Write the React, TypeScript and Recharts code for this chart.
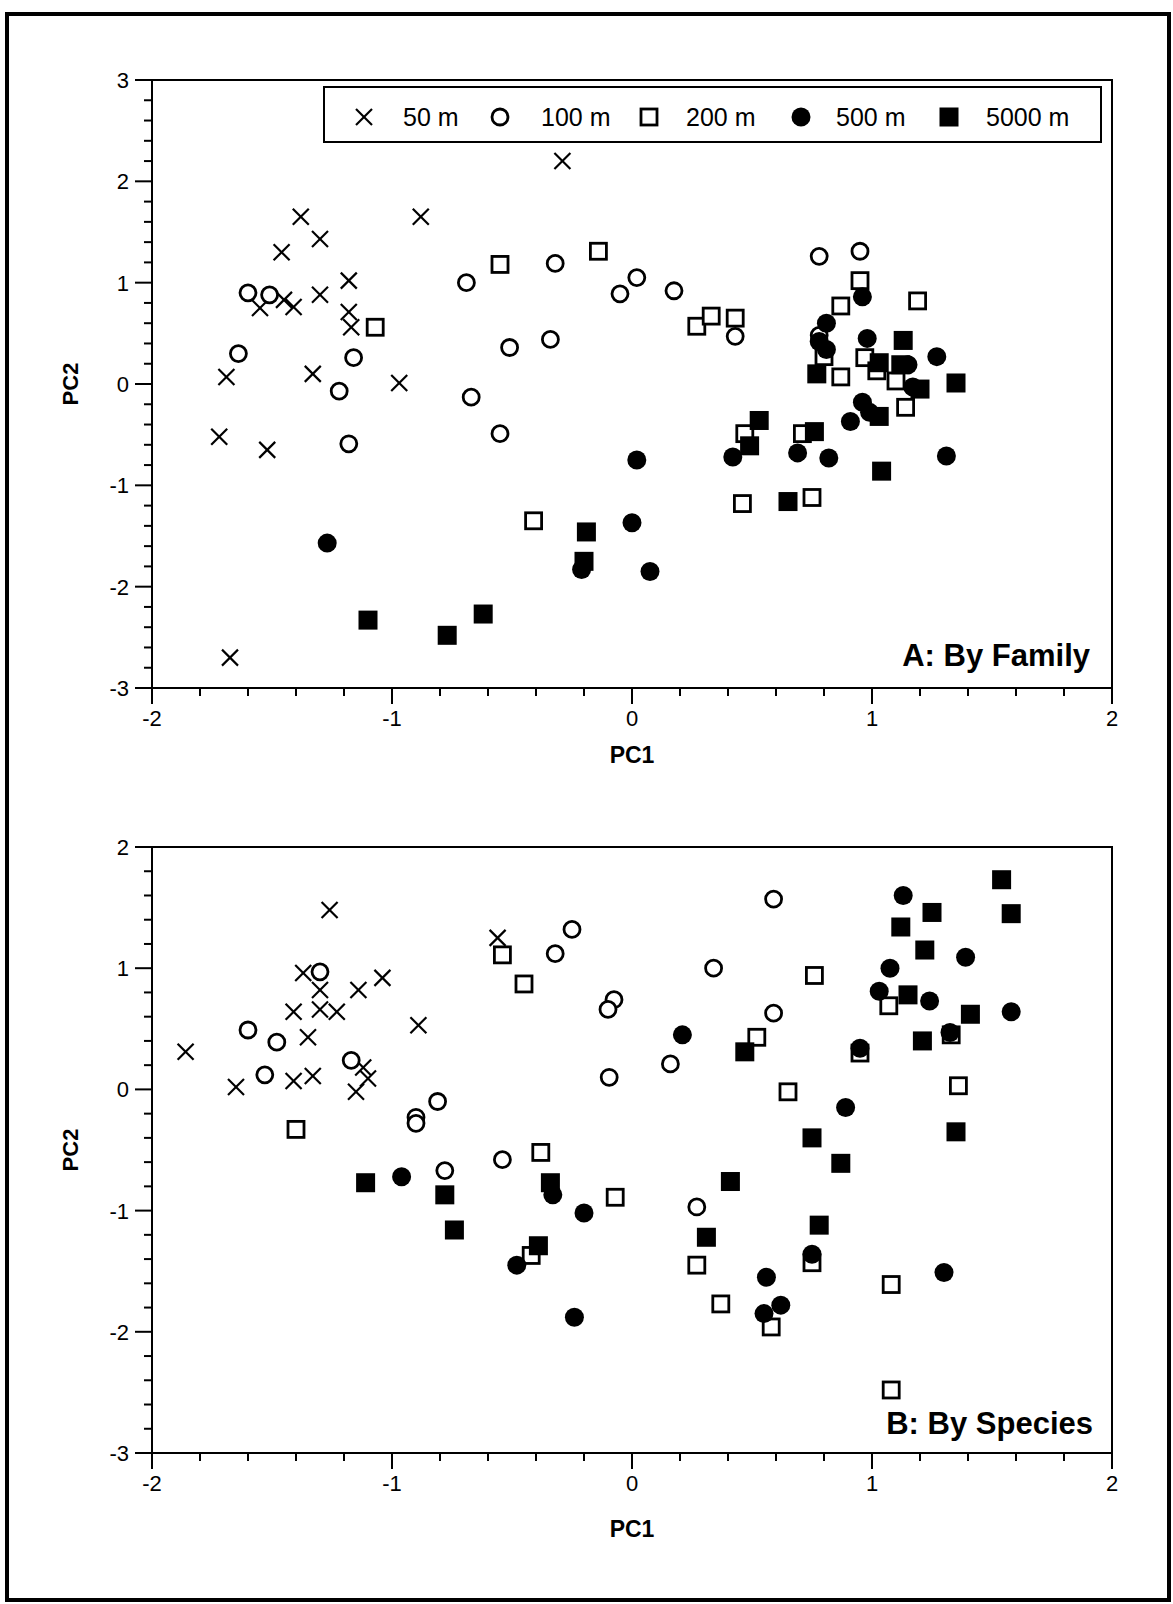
import React from 'react';
import { ScatterChart, Scatter, XAxis, YAxis, ReferenceArea, Label } from 'recharts';

const FONT = '"Liberation Sans", Arial, Helvetica, sans-serif';

const SERIES_NAMES = ['50 m', '100 m', '200 m', '500 m', '5000 m'];
const SERIES_SHAPES = ['cross', 'ring', 'box', 'disc', 'block'];

// ---- Panel A: By Family ----
const famA50 = [[-0.29, 2.2], [-1.38, 1.65], [-0.88, 1.65], [-1.46, 1.3], [-1.3, 1.43], [-1.18, 1.02], [-1.3, 0.88], [-1.55, 0.75], [-1.45, 0.83], [-1.41, 0.76], [-1.18, 0.71], [-1.17, 0.56], [-1.69, 0.07], [-1.33, 0.1], [-0.97, 0.01], [-1.72, -0.52], [-1.52, -0.65], [-1.675, -2.7]];
const famA100 = [[-1.6, 0.9], [-1.51, 0.88], [-1.64, 0.3], [-1.16, 0.26], [-1.22, -0.07], [-1.18, -0.59], [-0.69, 1.0], [-0.32, 1.19], [-0.51, 0.36], [-0.34, 0.44], [-0.67, -0.13], [-0.55, -0.49], [-0.05, 0.89], [0.02, 1.05], [0.175, 0.92], [0.43, 0.47], [0.78, 1.26], [0.95, 1.31], [0.78, 0.48]];
const famA200 = [[-1.07, 0.56], [-0.55, 1.18], [-0.14, 1.31], [0.27, 0.57], [0.33, 0.67], [0.43, 0.65], [0.95, 1.02], [1.19, 0.82], [0.87, 0.77], [0.8, 0.27], [0.87, 0.07], [0.97, 0.26], [1.02, 0.13], [1.1, 0.03], [1.14, -0.23], [0.47, -0.49], [0.71, -0.49], [0.46, -1.18], [0.75, -1.12], [-0.41, -1.35]];
const famA500 = [[-1.27, -1.57], [-0.21, -1.83], [0.0, -1.37], [0.075, -1.85], [0.02, -0.75], [0.42, -0.72], [0.69, -0.68], [0.82, -0.73], [1.31, -0.71], [0.91, -0.37], [0.96, -0.18], [0.99, -0.28], [0.96, 0.86], [0.81, 0.6], [0.78, 0.42], [0.81, 0.34], [0.98, 0.45], [1.15, 0.19], [1.27, 0.27], [1.17, -0.03]];
const famA5000 = [[-1.1, -2.33], [-0.77, -2.48], [-0.62, -2.27], [-0.2, -1.75], [-0.19, -1.46], [0.53, -0.36], [0.49, -0.61], [0.76, -0.47], [0.65, -1.16], [1.04, -0.86], [1.03, -0.32], [0.77, 0.1], [1.13, 0.43], [1.03, 0.21], [1.12, 0.19], [1.2, -0.05], [1.35, 0.01]];

// ---- Panel B: By Species ----
const spB50 = [[-1.26, 1.48], [-0.56, 1.25], [-1.37, 0.96], [-1.3, 0.82], [-1.14, 0.82], [-1.04, 0.92], [-1.41, 0.64], [-1.3, 0.66], [-1.23, 0.64], [-0.89, 0.53], [-1.86, 0.31], [-1.35, 0.43], [-1.65, 0.02], [-1.41, 0.07], [-1.33, 0.11], [-1.12, 0.18], [-1.1, 0.09], [-1.15, -0.02]];
const spB100 = [[-1.3, 0.97], [-1.6, 0.49], [-1.48, 0.39], [-1.53, 0.12], [-1.17, 0.24], [-0.9, -0.23], [-0.9, -0.28], [-0.81, -0.1], [-0.32, 1.12], [-0.25, 1.32], [-0.075, 0.74], [-0.1, 0.66], [-0.095, 0.1], [-0.54, -0.58], [-0.78, -0.67], [0.59, 1.57], [0.34, 1.0], [0.59, 0.63], [0.16, 0.21], [0.27, -0.97]];
const spB200 = [[-0.54, 1.11], [-0.45, 0.87], [-1.4, -0.33], [-0.38, -0.52], [-0.07, -0.89], [-0.42, -1.37], [0.76, 0.94], [0.52, 0.43], [0.65, -0.02], [1.07, 0.69], [1.36, 0.03], [0.95, 0.3], [1.33, 0.45], [0.27, -1.45], [0.37, -1.77], [0.58, -1.96], [0.75, -1.43], [1.08, -1.61], [1.08, -2.48]];
const spB500 = [[-0.96, -0.72], [-0.33, -0.87], [-0.2, -1.02], [-0.48, -1.45], [-0.24, -1.88], [0.21, 0.45], [0.89, -0.15], [1.13, 1.6], [1.075, 1.0], [1.03, 0.81], [1.24, 0.73], [1.39, 1.09], [1.58, 0.64], [0.95, 0.34], [1.325, 0.47], [0.56, -1.55], [0.62, -1.78], [0.55, -1.85], [0.75, -1.36], [1.3, -1.51]];
const spB5000 = [[-1.11, -0.77], [-0.78, -0.87], [-0.74, -1.16], [-0.34, -0.77], [-0.39, -1.29], [0.47, 0.31], [1.54, 1.73], [1.25, 1.46], [1.12, 1.34], [1.22, 1.15], [1.58, 1.45], [1.15, 0.78], [1.41, 0.62], [1.21, 0.4], [0.75, -0.4], [0.87, -0.61], [1.35, -0.35], [0.41, -0.76], [0.31, -1.22], [0.78, -1.12]];

// ---- Ticks ----
const X_TICKS = [-2, -1.8, -1.6, -1.4, -1.2, -1, -0.8, -0.6, -0.4, -0.2, 0, 0.2, 0.4, 0.6, 0.8, 1, 1.2, 1.4, 1.6, 1.8, 2];
const X_MAJOR = [-2, -1, 0, 1, 2];
const Y_TICKS_A = [-3, -2.8, -2.6, -2.4, -2.2, -2, -1.8, -1.6, -1.4, -1.2, -1, -0.8, -0.6, -0.4, -0.2, 0, 0.2, 0.4, 0.6, 0.8, 1, 1.2, 1.4, 1.6, 1.8, 2, 2.2, 2.4, 2.6, 2.8, 3];
const Y_MAJOR_A = [-3, -2, -1, 0, 1, 2, 3];
const Y_TICKS_B = [-3, -2.8, -2.6, -2.4, -2.2, -2, -1.8, -1.6, -1.4, -1.2, -1, -0.8, -0.6, -0.4, -0.2, 0, 0.2, 0.4, 0.6, 0.8, 1, 1.2, 1.4, 1.6, 1.8, 2];
const Y_MAJOR_B = [-3, -2, -1, 0, 1, 2];

const toPts = (arr: number[][]) => arr.map(([x, y]) => ({ x, y }));
const isIn = (list: number[], v: number) => list.some((m) => Math.abs(m - v) < 1e-6);

function Marker({ kind, cx, cy }: { kind: string; cx: number; cy: number }) {
  switch (kind) {
    case 'cross':
      return (
        <g stroke="#000" strokeWidth={2.2}>
          <line x1={cx - 8} y1={cy - 8} x2={cx + 8} y2={cy + 8} />
          <line x1={cx - 8} y1={cy + 8} x2={cx + 8} y2={cy - 8} />
        </g>
      );
    case 'ring':
      return <circle cx={cx} cy={cy} r={8} fill="#fff" stroke="#000" strokeWidth={2.8} />;
    case 'box':
      return <rect x={cx - 8} y={cy - 8} width={16} height={16} fill="#fff" stroke="#000" strokeWidth={2.8} />;
    case 'disc':
      return <circle cx={cx} cy={cy} r={9.5} fill="#000" />;
    default:
      return <rect x={cx - 9.5} y={cy - 9.5} width={19} height={19} fill="#000" />;
  }
}

const XTick = (p: any) => {
  const v = p.payload.value;
  const major = isIn(X_MAJOR, v);
  return (
    <g>
      <line x1={p.x} y1={p.y} x2={p.x} y2={p.y + (major ? 16 : 8)} stroke="#000" strokeWidth={2} />
      {major && (
        <text x={p.x} y={p.y + 38} textAnchor="middle" fontSize={22} fontFamily={FONT} fill="#000">
          {String(Math.round(v))}
        </text>
      )}
    </g>
  );
};

const makeYTick = (majors: number[]) => (p: any) => {
  const v = p.payload.value;
  const major = isIn(majors, v);
  return (
    <g>
      <line x1={p.x} y1={p.y} x2={p.x - (major ? 17 : 8)} y2={p.y} stroke="#000" strokeWidth={2} />
      {major && (
        <text x={p.x - 23} y={p.y + 8} textAnchor="end" fontSize={22} fontFamily={FONT} fill="#000">
          {String(Math.round(v))}
        </text>
      )}
    </g>
  );
};

const yTitle = (props: any) => {
  const vb = props.viewBox || { y: 80, height: 608 };
  const cx = 70;
  const cy = vb.y + vb.height / 2;
  return (
    <text x={cx} y={cy} transform={`rotate(-90 ${cx} ${cy})`} textAnchor="middle" dominantBaseline="central" fontSize={22} fontWeight="bold" fontFamily={FONT} fill="#000">
      PC2
    </text>
  );
};

function Panel(props: {
  top: number;
  height: number;
  series: number[][][];
  yDomain: [number, number];
  yTicks: number[];
  yMajor: number[];
  title: string;
  titleOffset: number;
  xTitleOffset: number;
}) {
  const { top, height, series, yDomain, yTicks, yMajor, title, titleOffset, xTitleOffset } = props;
  const yTick = makeYTick(yMajor);
  return (
    <div style={{ position: 'absolute', left: 0, top }}>
      <ScatterChart width={1173} height={height} margin={{ top: 80, right: 61, bottom: 0, left: 0 }}>
        <XAxis
          type="number"
          dataKey="x"
          domain={[-2, 2]}
          ticks={X_TICKS}
          interval={0}
          tickSize={0}
          tickMargin={0}
          tickLine={false}
          axisLine={{ stroke: '#000', strokeWidth: 2 }}
          tick={XTick}
          height={112}
        >
          <Label value="PC1" position="insideTop" offset={xTitleOffset} fontSize={23} fontWeight="bold" fontFamily={FONT} fill="#000" />
        </XAxis>
        <YAxis
          type="number"
          dataKey="y"
          domain={yDomain}
          ticks={yTicks}
          interval={0}
          tickSize={0}
          tickMargin={0}
          tickLine={false}
          axisLine={{ stroke: '#000', strokeWidth: 2 }}
          tick={yTick}
          width={152}
        >
          <Label content={yTitle} />
        </YAxis>
        <ReferenceArea x1={-2} x2={2} y1={yDomain[0]} y2={yDomain[1]} fill="none" fillOpacity={0} stroke="#000" strokeWidth={2}>
          <Label value={title} position="insideBottomRight" offset={titleOffset} fontSize={31} fontWeight="bold" fontFamily={FONT} fill="#000" />
        </ReferenceArea>
        {series.map((d, i) => (
          <Scatter
            key={SERIES_NAMES[i]}
            name={SERIES_NAMES[i]}
            data={toPts(d)}
            isAnimationActive={false}
            shape={(sp: any) => <Marker kind={SERIES_SHAPES[i]} cx={sp.cx} cy={sp.cy} />}
          />
        ))}
      </ScatterChart>
    </div>
  );
}

const LEGEND_POS = [
  [39, 78],
  [175, 216],
  [324, 361],
  [476, 511],
  [624, 661],
];

function LegendBox() {
  return (
    <div style={{ position: 'absolute', left: 323, top: 86, width: 779, height: 57, border: '2px solid #000', boxSizing: 'border-box', background: '#fff' }}>
      <svg width={775} height={53} style={{ display: 'block' }}>
        {SERIES_NAMES.map((name, i) => (
          <g key={name}>
            <Marker kind={SERIES_SHAPES[i]} cx={LEGEND_POS[i][0]} cy={29} />
            <text x={LEGEND_POS[i][1]} y={38} fontSize={25} fontFamily={FONT} fill="#000">
              {name}
            </text>
          </g>
        ))}
      </svg>
    </div>
  );
}

export default function App() {
  return (
    <div style={{ position: 'absolute', left: 0, top: 0, width: 1173, height: 1604, background: '#fff', overflow: 'hidden' }}>
      <div style={{ position: 'absolute', left: 5, top: 12, width: 1166, height: 1590, border: '4px solid #000', boxSizing: 'border-box' }} />
      <Panel
        top={0}
        height={800}
        series={[famA50, famA100, famA200, famA500, famA5000]}
        yDomain={[-3, 3]}
        yTicks={Y_TICKS_A}
        yMajor={Y_MAJOR_A}
        title="A: By Family"
        titleOffset={22}
        xTitleOffset={59}
      />
      <LegendBox />
      <Panel
        top={767}
        height={798}
        series={[spB50, spB100, spB200, spB500, spB5000]}
        yDomain={[-3, 2]}
        yTicks={Y_TICKS_B}
        yMajor={Y_MAJOR_B}
        title="B: By Species"
        titleOffset={19}
        xTitleOffset={68}
      />
    </div>
  );
}
